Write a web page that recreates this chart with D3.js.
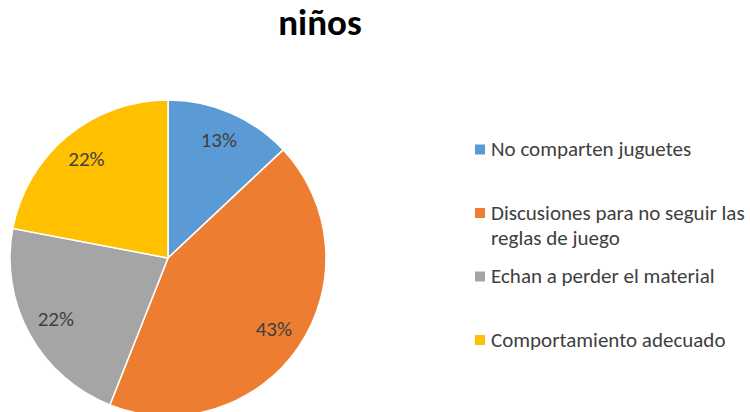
<!DOCTYPE html>
<html>
<head>
<meta charset="utf-8">
<script src="https://cdn.jsdelivr.net/npm/d3@7"></script>
<style>
  body { margin: 0; background: #fff; }
  svg { display: block; }
</style>
</head>
<body>
<svg width="750" height="412"></svg>
<script>
const title = "niños";
const categories = ["No comparten juguetes", "Discusiones para no seguir las reglas de juego", "Echan a perder el material", "Comportamiento adecuado"];
const legendLines = [["No comparten juguetes"], ["Discusiones para no seguir las", "reglas de juego"], ["Echan a perder el material"], ["Comportamiento adecuado"]];
const values = [13, 43, 22, 22];
const colors = ["#5B9BD5", "#ED7D31", "#A5A5A5", "#FFC000"];

const font = "Carlito, Calibri, 'Open Sans', sans-serif";
const svg = d3.select("svg");

svg.append("text")
    .attr("x", 320)
    .attr("y", 35)
    .attr("text-anchor", "middle")
    .style("font-family", font)
    .style("font-weight", "bold")
    .style("font-size", "37px")
    .attr("fill", "#000")
    .text(title);

const cx = 168, cy = 258, radius = 158;
const pie = d3.pie().sort(null).value(d => d);
const arc = d3.arc().innerRadius(0).outerRadius(radius);
const labelArc = d3.arc().innerRadius(128).outerRadius(128);

const g = svg.append("g").attr("transform", `translate(${cx},${cy})`);
const arcs = pie(values);

g.selectAll("path")
    .data(arcs)
    .enter().append("path")
    .attr("d", arc)
    .attr("fill", (d, i) => colors[i])
    .attr("stroke", "#fff")
    .attr("stroke-width", 1.5);

g.selectAll("text.lbl")
    .data(arcs)
    .enter().append("text")
    .attr("class", "lbl")
    .attr("transform", d => `translate(${labelArc.centroid(d)})`)
    .attr("text-anchor", "middle")
    .attr("dy", "0.3em")
    .style("font-family", font)
    .style("font-size", "21px")
    .attr("fill", "#404040")
    .text(d => `${d.data}%`);

const legendY = d3.scalePoint()
    .domain(d3.range(categories.length))
    .range([149.5, 340]);

const legend = svg.append("g").attr("class", "legend");
const rows = legend.selectAll("g")
    .data(categories)
    .enter().append("g")
    .attr("transform", (d, i) => `translate(475, ${legendY(i)})`);

rows.append("rect")
    .attr("x", 0)
    .attr("y", -5)
    .attr("width", 10)
    .attr("height", 10)
    .attr("fill", (d, i) => colors[i]);

rows.each(function(d, i) {
    const t = d3.select(this).append("text")
        .style("font-family", font)
        .style("font-size", "21px")
        .attr("fill", "#404040");
    legendLines[i].forEach((line, j) => {
        t.append("tspan")
            .attr("x", 16)
            .attr("y", j * 25)
            .attr("dy", "0.33em")
            .text(line);
    });
});
</script>
</body>
</html>
